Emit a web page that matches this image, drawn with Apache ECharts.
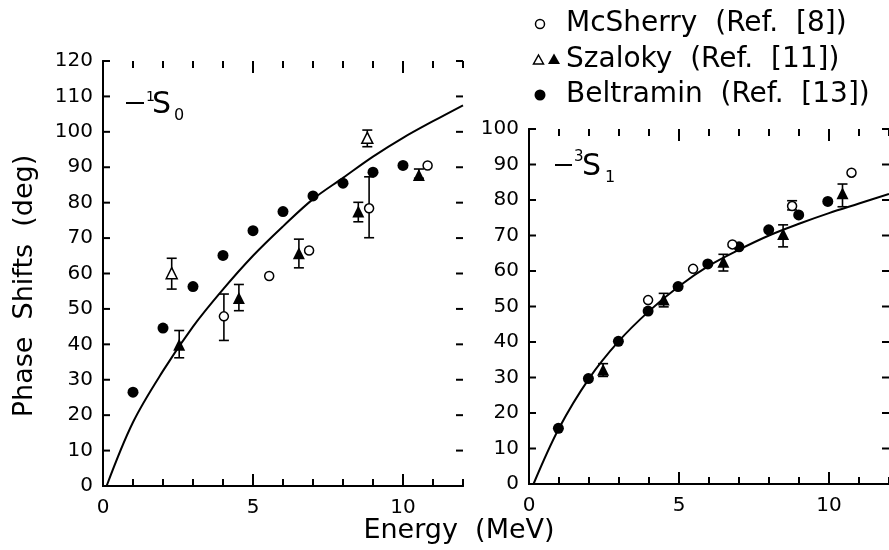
<!DOCTYPE html>
<html>
<head>
<meta charset="utf-8">
<script src="https://cdn.jsdelivr.net/npm/echarts@6/dist/echarts.min.js"></script>
<style>
  html, body { margin: 0; padding: 0; background: #fff; }
  #main { width: 889px; height: 550px; }
</style>
</head>
<body>
<div id="main"></div>
<script>
// ---- data ----
// 1S0 panel
var s0Curve = [[0.12, 0], [1, 18], [2, 32.5], [3, 45], [4, 55.5], [5, 65], [6, 73.3], [7, 81], [8, 87], [9, 93], [10, 98.3], [11, 103], [12, 107.5]];
var s0Beltramin = [[1, 26.5], [2, 44.6], [3, 56.3], [4, 65.1], [5, 72.1], [6, 77.5], [7, 81.9], [8, 85.5], [9, 88.6], [10, 90.5]];
var s0McSherry = [[4.03, 47.9], [5.54, 59.3], [6.87, 66.5], [8.87, 78.4], [10.82, 90.5]];
var s0McSherryErr = [[4.03, 41.1, 54.2], [8.87, 70.1, 87.3]];
var s0SzalokyOpen = [[2.29, 60.1], [8.81, 98.3]];
var s0SzalokyOpenErr = [[2.29, 55.6, 64.3], [8.81, 95.8, 100.5]];
var s0SzalokyFull = [[2.54, 39.9], [4.53, 53.1], [6.53, 65.7], [8.51, 77.5], [10.53, 87.8]];
var s0SzalokyFullErr = [[2.54, 36.2, 43.9], [4.53, 49.5, 56.9], [6.53, 61.6, 69.7], [8.51, 74.6, 80.1], [10.53, 86.9, 89.5]];

// 3S1 panel
var s1Curve = [[0.15, 0], [1, 15.7], [2, 29.7], [3, 40.3], [4, 48.7], [5, 55.7], [6, 61.5], [7, 66], [8, 70], [9, 73.3], [10, 76.3], [11, 79], [12, 81.7]];
var s1Beltramin = [[0.98, 15.7], [1.98, 29.7], [2.98, 40.2], [3.97, 48.7], [4.97, 55.6], [5.96, 62], [7.0, 66.8], [7.99, 71.6], [8.99, 75.8], [9.96, 79.6]];
var s1McSherry = [[3.97, 51.8], [5.47, 60.6], [6.78, 67.5], [8.77, 78.3], [10.75, 87.7]];
var s1McSherryErr = [[8.77, 77.2, 79.8]];
var s1SzalokyFull = [[2.47, 32.2], [4.49, 52], [6.48, 62.6], [8.47, 70.4], [10.45, 81.9]];
var s1SzalokyFullErr = [[2.47, 30.3, 33.9], [4.49, 49.9, 53.7], [6.48, 60, 64.7], [8.47, 66.8, 73], [10.45, 78.1, 84.5]];

// ticks
var xMinorTicks = [0, 1, 2, 3, 4, 5, 6, 7, 8, 9, 10, 11, 12];
var xMajorTicks = [0, 5, 10];
var s0YTicks = [0, 10, 20, 30, 40, 50, 60, 70, 80, 90, 100, 110, 120];
var s1YTicks = [0, 10, 20, 30, 40, 50, 60, 70, 80, 90, 100];

var FONT = 'DejaVu Sans';
var chart = echarts.init(document.getElementById('main'));

function xAxesFor(gi) {
    return [{
        gridIndex: gi, type: 'value', position: 'bottom', min: 0, max: 12, interval: 5,
        axisLine: { show: true, lineStyle: { color: '#000', width: 2 } },
        axisTick: { show: false },
        axisLabel: {
            customValues: xMajorTicks, margin: 12,
            color: '#000', fontFamily: FONT, fontSize: 20,
            formatter: function(v) { return v === 12 ? '' : v; }
        },
        splitLine: { show: false }
    }, {
        gridIndex: gi, type: 'value', position: 'top', min: 0, max: 12, interval: 5,
        axisLine: { show: true, lineStyle: { color: '#000', width: 2 } },
        axisTick: { show: false }, axisLabel: { show: false },
        splitLine: { show: false }
    }];
}

function yAxesFor(gi, max) {
    return [{
        gridIndex: gi, type: 'value', position: 'left', min: 0, max: max, interval: 10,
        axisLine: { show: true, lineStyle: { color: '#000', width: 2 } },
        axisTick: { show: false },
        axisLabel: { color: '#000', fontFamily: FONT, fontSize: 20, margin: 10 },
        splitLine: { show: false }
    }, {
        gridIndex: gi, type: 'value', position: 'right', min: 0, max: max, interval: 10,
        axisLine: { show: true, lineStyle: { color: '#000', width: 2 } },
        axisTick: { show: false }, axisLabel: { show: false },
        splitLine: { show: false }
    }];
}

// inward ticks on both sides of a panel, placed through the axis scale
function ticks(values, dim, len, xi, yi) {
    return {
        type: 'custom', xAxisIndex: xi, yAxisIndex: yi, z: 4, silent: true,
        data: values.map(function(v) { return dim === 'x' ? [v, 0] : [0, v]; }),
        encode: { x: 0, y: 1 },
        renderItem: function(params, api) {
            var cs = params.coordSys;
            var p = api.coord([api.value(0), api.value(1)]);
            var a, b;
            if (dim === 'x') {
                var yb = cs.y + cs.height, yt = cs.y;
                a = { x1: p[0], y1: yb, x2: p[0], y2: yb - len };
                b = { x1: p[0], y1: yt, x2: p[0], y2: yt + len };
            } else {
                var xl = cs.x, xr = cs.x + cs.width;
                a = { x1: xl, y1: p[1], x2: xl + len, y2: p[1] };
                b = { x1: xr, y1: p[1], x2: xr - len, y2: p[1] };
            }
            return { type: 'group', children: [
                { type: 'line', shape: a, style: { stroke: '#000', lineWidth: 2 } },
                { type: 'line', shape: b, style: { stroke: '#000', lineWidth: 2 } }
            ] };
        }
    };
}

function errBars(data, xi, yi) {
    return {
        type: 'custom', xAxisIndex: xi, yAxisIndex: yi, z: 2,
        data: data,
        encode: { x: 0, y: [1, 2] },
        renderItem: function(params, api) {
            var lo = api.coord([api.value(0), api.value(1)]);
            var hi = api.coord([api.value(0), api.value(2)]);
            var w = 5;
            return {
                type: 'group',
                children: [
                    { type: 'line', shape: { x1: lo[0], y1: lo[1], x2: hi[0], y2: hi[1] }, style: { stroke: '#000', lineWidth: 1.6 } },
                    { type: 'line', shape: { x1: lo[0] - w, y1: lo[1], x2: lo[0] + w, y2: lo[1] }, style: { stroke: '#000', lineWidth: 1.6 } },
                    { type: 'line', shape: { x1: hi[0] - w, y1: hi[1], x2: hi[0] + w, y2: hi[1] }, style: { stroke: '#000', lineWidth: 1.6 } }
                ]
            };
        }
    };
}

function pts(data, xi, yi, symbol, size, filled) {
    return {
        type: 'scatter', xAxisIndex: xi, yAxisIndex: yi, z: 3,
        data: data, symbol: symbol, symbolSize: size,
        itemStyle: filled ? { color: '#000', opacity: 1 } : { color: '#fff', borderColor: '#000', borderWidth: 1.5, opacity: 1 }
    };
}

function curve(data, xi, yi) {
    return {
        type: 'line', xAxisIndex: xi, yAxisIndex: yi, z: 1,
        data: data, showSymbol: false, smooth: 0.35,
        lineStyle: { color: '#000', width: 2 }
    };
}

var lab = { fill: '#000', fontFamily: FONT };

chart.setOption({
    animation: false,
    grid: [
        { left: 103, top: 61, width: 360, height: 425 },
        { left: 529, top: 129, width: 362, height: 355 }
    ],
    xAxis: xAxesFor(0).concat(xAxesFor(1)),
    yAxis: yAxesFor(0, 120).concat(yAxesFor(1, 100)),
    series: [
        ticks(xMinorTicks, 'x', 7, 0, 0),
        ticks(xMajorTicks, 'x', 12, 0, 0),
        ticks(s0YTicks, 'y', 7, 0, 0),
        curve(s0Curve, 0, 0),
        errBars(s0McSherryErr, 0, 0),
        errBars(s0SzalokyOpenErr, 0, 0),
        errBars(s0SzalokyFullErr, 0, 0),
        pts(s0Beltramin, 0, 0, 'circle', 11, true),
        pts(s0McSherry, 0, 0, 'circle', 9, false),
        pts(s0SzalokyOpen, 0, 0, 'triangle', 11, false),
        pts(s0SzalokyFull, 0, 0, 'triangle', 12, true),

        ticks(xMinorTicks, 'x', 7, 2, 2),
        ticks(xMajorTicks, 'x', 12, 2, 2),
        ticks(s1YTicks, 'y', 7, 2, 2),
        curve(s1Curve, 2, 2),
        errBars(s1McSherryErr, 2, 2),
        errBars(s1SzalokyFullErr, 2, 2),
        pts(s1Beltramin, 2, 2, 'circle', 11, true),
        pts(s1McSherry, 2, 2, 'circle', 9, false),
        pts(s1SzalokyFull, 2, 2, 'triangle', 12, true)
    ],
    graphic: [
        // axis titles
        { type: 'text', x: 459, y: 531, style: Object.assign({ text: 'Energy  (MeV)', fontSize: 27, align: 'center', verticalAlign: 'middle' }, lab) },
        { type: 'text', x: 25, y: 286, rotation: Math.PI / 2, style: Object.assign({ text: 'Phase  Shifts  (deg)', fontSize: 27, align: 'center', verticalAlign: 'middle' }, lab) },

        // panel labels
        { type: 'line', shape: { x1: 126, y1: 103, x2: 144, y2: 103 }, style: { stroke: '#000', lineWidth: 2 } },
        { type: 'text', x: 146, y: 90, style: Object.assign({ text: '1', fontSize: 14 }, lab) },
        { type: 'text', x: 152, y: 90, style: Object.assign({ text: 'S', fontSize: 30 }, lab) },
        { type: 'text', x: 174, y: 108, style: Object.assign({ text: '0', fontSize: 16 }, lab) },

        { type: 'line', shape: { x1: 555, y1: 165, x2: 572, y2: 165 }, style: { stroke: '#000', lineWidth: 2 } },
        { type: 'text', x: 574, y: 150, style: Object.assign({ text: '3', fontSize: 15 }, lab) },
        { type: 'text', x: 582, y: 152, style: Object.assign({ text: 'S', fontSize: 30 }, lab) },
        { type: 'text', x: 605, y: 170, style: Object.assign({ text: '1', fontSize: 16 }, lab) },

        // legend
        { type: 'circle', shape: { cx: 540, cy: 24, r: 4.5 }, style: { fill: '#fff', stroke: '#000', lineWidth: 1.5 } },
        { type: 'text', x: 566, y: 24, style: Object.assign({ text: 'McSherry  (Ref.  [8])', fontSize: 28, verticalAlign: 'middle' }, lab) },
        { type: 'polygon', shape: { points: [[538.5, 55], [543.5, 64], [533.5, 64]] }, style: { fill: '#fff', stroke: '#000', lineWidth: 1.5 } },
        { type: 'polygon', shape: { points: [[554, 53.5], [560, 64], [548, 64]] }, style: { fill: '#000' } },
        { type: 'text', x: 566, y: 60, style: Object.assign({ text: 'Szaloky  (Ref.  [11])', fontSize: 28, verticalAlign: 'middle' }, lab) },
        { type: 'circle', shape: { cx: 540, cy: 95, r: 5.5 }, style: { fill: '#000' } },
        { type: 'text', x: 566, y: 95, style: Object.assign({ text: 'Beltramin  (Ref.  [13])', fontSize: 28, verticalAlign: 'middle' }, lab) }
    ]
});
</script>
</body>
</html>
